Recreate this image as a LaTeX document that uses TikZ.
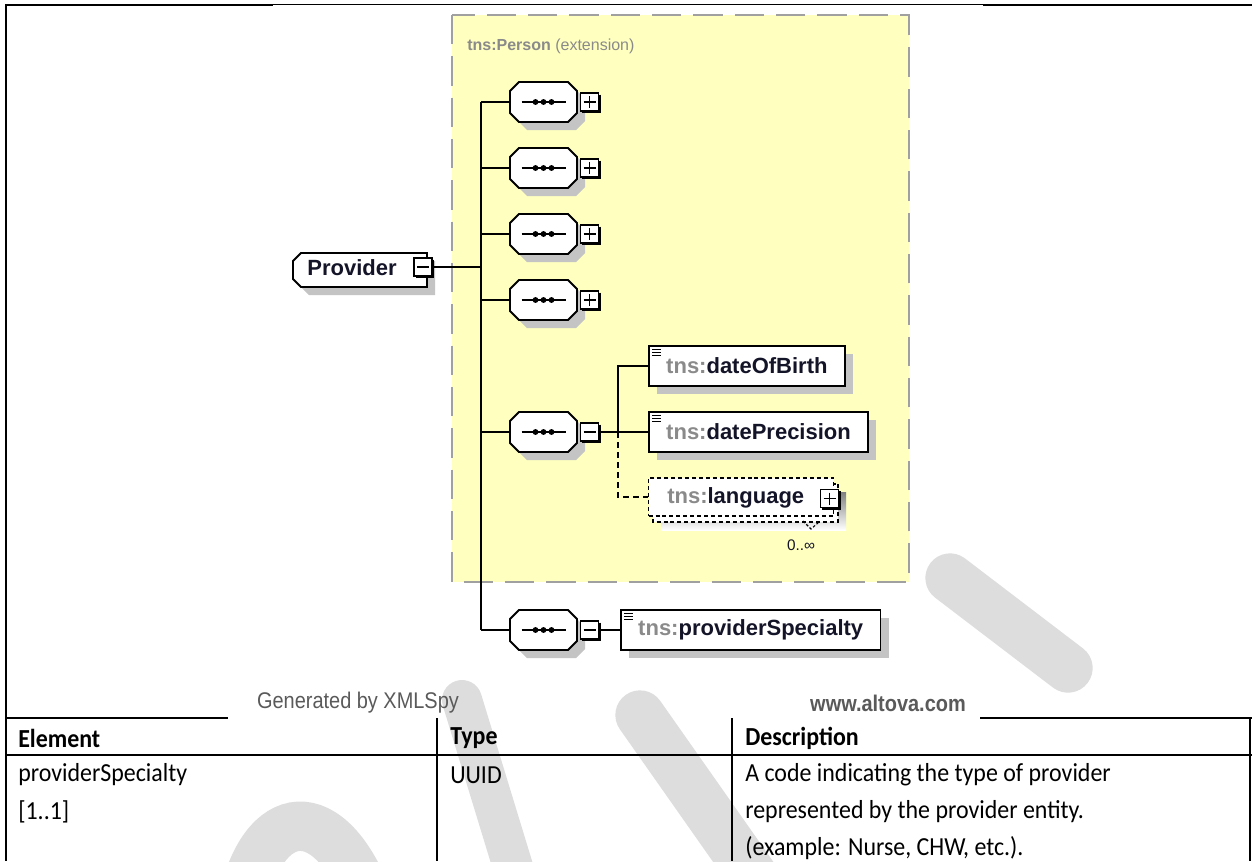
\documentclass[tikz,border=0pt]{standalone}
\usepackage{fontspec}
\setmainfont{Liberation Sans}
\newfontfamily\cellfont[FakeStretch=0.92]{Carlito}
\newfontfamily\creditfont[FakeStretch=0.88]{Liberation Sans}
\usetikzlibrary{calc,shadows}

\definecolor{groupfill}{HTML}{FFFFC0}
\definecolor{groupedge}{HTML}{A0A0A0}
\definecolor{shade}{HTML}{C4C4C4}
\definecolor{prefix}{HTML}{8A8A8A}
\definecolor{credit}{HTML}{5A5A5A}
\definecolor{draftmark}{HTML}{DDDDDD}
\definecolor{namecol}{HTML}{141428}

\newcommand\dgfont{\fontsize{16.5pt}{18pt}\selectfont}

\tikzset{
  conn/.style={line width=1.35pt},
  optconn/.style={line width=1.35pt, dash pattern=on 4.5pt off 3pt},
  hold/.style={inner sep=0pt, outer sep=0pt, draw=none},
  xbox/.style={draw, fill=white, line width=0.9pt, minimum size=13.5pt, inner sep=0pt, outer sep=0pt},
  outline/.style={draw, fill=white, line width=1.35pt},
  shadowed/.style={drop shadow={shadow xshift=6pt, shadow yshift=-6pt, fill=shade, opacity=1}},
  elembox/.style={outline, shadowed, minimum height=30pt, inner xsep=13pt, inner ysep=0pt,
    anchor=west, text=namecol, font=\dgfont\bfseries},
  seqbar/.style={line width=1.5pt},
  groupbox/.style={fill=groupfill, draw=groupedge, line width=1.6pt, dash pattern=on 22pt off 9pt},
  rule/.style={line width=1.5pt},
  colrule/.style={line width=1pt},
  cell/.style={anchor=west, inner sep=0pt, font=\cellfont\fontsize{19.5pt}{24pt}\selectfont},
  headcell/.style={cell, font=\cellfont\bfseries\fontsize{19.5pt}{24pt}\selectfont},
}

% expander box: thick lower-right edge, minus sign, optional plus bar
\newcommand\xsign[2]{%
  \draw[line width=1.8pt] ($(#1.north east)+(1,1.5)$) -- ($(#1.south east)+(1,1)$) -- ($(#1.south west)+(1.5,1)$);
  \draw[line width=1pt] ($(#1.center)+(-6,0)$) -- ($(#1.center)+(6,0)$);
  \ifnum#2=1 \draw[line width=1pt] ($(#1.center)+(0,-6)$) -- ($(#1.center)+(0,6)$);\fi
}

% sequence compositor: name, x, y, 1 = collapsed
\newcommand\seqnode[4]{%
  \filldraw[outline, shadowed]
    (#2-33.5,#3-11) -- (#2-24.5,#3-20) -- (#2+24.5,#3-20) -- (#2+33.5,#3-11)
    -- (#2+33.5,#3+11) -- (#2+24.5,#3+20) -- (#2-24.5,#3+20) -- (#2-33.5,#3+11) -- cycle;
  \node[hold, minimum width=50.25pt, minimum height=30pt] (#1) at (#2,#3) {};
  \draw[seqbar] (#2-22,#3) -- (#2+22,#3);
  \foreach \d in {-8,0,8} \fill (#2,#3) ++(\d,0) circle[radius=2.2pt];
  \node[xbox] (#1x) at (#2+46,#3) {};
  \xsign{#1x}{#4}%
}

% simple-type marker in the corner of an element box
\newcommand\elemicon[1]{%
  \foreach \k in {0,3,6} \draw[line width=0.7pt] ($(#1.north west)+(4,4+\k)$) -- ++(9,0);
}

\begin{document}
\begin{tikzpicture}[x=0.75pt,y=-0.75pt]
\useasboundingbox (0,0) rectangle (1252,861);
\fill[white] (0,0) rectangle (1252,861);

% watermark strokes
\begin{scope}[draw=draftmark, line cap=round]
  \draw[line width=37pt] (950,578) -- (1068,668);
  \draw[line width=37pt] (242,905) .. controls (262,805) and (330,795) .. (370,905);
  \draw[line width=30pt] (462,700) -- (520,890);
  \draw[line width=37pt] (640,715) -- (770,900);
\end{scope}

% page frame
\draw[rule] (6,5) -- (273,5);
\draw[line width=0.75pt] (273,4.5) -- (983,4.5);
\draw[rule] (983,5) -- (1252,5);
\draw[rule] (6,4.3) -- (6,861);

% extension group
\draw[groupbox] (452,15) rectangle (909,582);
\node[anchor=west, inner sep=0pt, text=prefix, font=\fontsize{12pt}{14pt}\selectfont] (ptitle) at (467,46)
  {\textbf{tns:Person} (extension)};

% root element
\filldraw[outline, shadowed] (293,261) -- (301,253) -- (427,253) -- (427,287) -- (301,287) -- (293,279) -- cycle;
\node[hold, minimum width=100.5pt, minimum height=25.5pt] (prov) at (360,270) {};
\node[inner sep=0pt, text=namecol, font=\dgfont\bfseries] (provlbl) at (352,268) {Provider};
\node[xbox] (provx) at (423,267) {};
\xsign{provx}{0}

% sequences
\seqnode{s1}{543.5}{102}{1}
\seqnode{s2}{543.5}{168}{1}
\seqnode{s3}{543.5}{234}{1}
\seqnode{s4}{543.5}{300}{1}
\seqnode{s5}{543.5}{432}{0}
\seqnode{s6}{543.5}{630}{0}

% trunk
\coordinate (tA) at (481,102);
\coordinate (tB) at (481,630);
\draw[conn] (tA) -- (tB);
\draw[conn] (provx.east) -- (provx.east -| tA);
\foreach \s in {s1,s2,s3,s4,s5,s6} \draw[conn] (\s.west) -- (\s.west -| tA);

% child elements of the fifth sequence
\node[elembox] (dob) at (648,366) {\textcolor{prefix}{tns:}dateOfBirth};
\elemicon{dob}
\node[elembox] (dprec) at (648,432) {\textcolor{prefix}{tns:}datePrecision};
\elemicon{dprec}

% optional repeated element
\fill[shade] (661,492) rectangle (846,530);
\draw[fill=white, line width=0.9pt, dash pattern=on 3pt off 2.2pt] (653,484) rectangle (838,522);
\node[draw, fill=white, line width=0.9pt, dash pattern=on 3pt off 2.2pt, minimum width=138.75pt,
  minimum height=28.5pt, inner sep=0pt, anchor=west] (lang) at (648,497) {};
\node[anchor=west, inner sep=0pt, text=namecol, font=\dgfont\bfseries] (langlbl) at ($(lang.west)+(19,1)$)
  {\textcolor{prefix}{tns:}language};
\node[xbox] (langx) at (829.5,498.5) {};
\xsign{langx}{1}
\draw[line width=0.8pt, dash pattern=on 2pt off 1.5pt] (803,521) -- (811,529) -- (819,522);
\node[text=namecol, inner sep=0pt, font=\fontsize{11.5pt}{13pt}\selectfont] (mult) at (801,545) {0..∞};

\coordinate (uA) at (618,366);
\draw[conn] (s5x.east) -- (s5x.east -| uA);
\draw[conn] (dob.west) -- (uA) -- (s5x.east -| uA) -- (dprec.west);
\draw[optconn] (s5x.east -| uA) -- (lang.west -| uA) -- (lang.west);

% last sequence
\node[elembox] (pspec) at (620,630) {\textcolor{prefix}{tns:}providerSpecialty};
\elemicon{pspec}
\draw[conn] (s6x.east) -- (pspec.west);

% credits
\node[inner sep=0pt, text=credit, font=\creditfont\fontsize{17pt}{20pt}\selectfont] (gen) at (358,703) {Generated by XMLSpy};
\node[inner sep=0pt, text=credit, font=\creditfont\fontsize{17pt}{20pt}\selectfont\bfseries] (web) at (888,703) {www.altova.com};

% table
\draw[rule] (6,718) -- (228,718);
\draw[rule] (980,718) -- (1252,718);
\draw[rule] (6,755) -- (1252,755);
\draw[colrule] (437,718) -- (437,861);
\draw[colrule] (732,718) -- (732,861);
\draw[colrule] (1250,718) -- (1250,861);

\node[headcell] (hElem) at (18,738) {Element};
\node[headcell] (hType) at (450,738) {Type};
\node[headcell] (hDesc) at (745,738) {Description};

\node[cell] (cElem1) at (18,775) {providerSpecialty};
\node[cell] (cElem2) at (18,812) {[1..1]};
\node[cell] (cType) at (450,775) {UUID};
\node[cell] (cDesc1) at (745,775) {A code indicating the type of provider};
\node[cell] (cDesc2) at (745,812) {represented by the provider entity.};
\node[cell] (cDesc3) at (745,848) {(example: Nurse, CHW, etc.).};
\end{tikzpicture}
\end{document}
